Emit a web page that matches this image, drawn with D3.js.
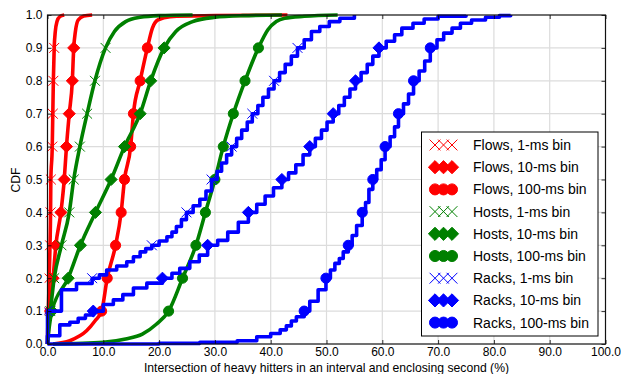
<!DOCTYPE html>
<html><head><meta charset="utf-8">
<script src="https://cdn.jsdelivr.net/npm/d3@7"></script>
<style>
body{margin:0;background:#fff}
svg{display:block}
text{font-family:"Liberation Sans",Arial,sans-serif;fill:#000}
</style>
</head><body>
<svg id="chart" width="621" height="374"></svg>
<script>
// CDF knots [intersection %, cumulative fraction] per series
const flows1ms = [[0,0],[0.05,0.05],[0.15,0.1],[0.3,0.2],[0.45,0.3],[0.55,0.4],[0.6,0.5],[0.85,0.6],[0.95,0.7],[1.05,0.8],[1.2,0.9],[1.4,0.95],[1.7,0.98],[2.2,0.995],[3.0,1.0]];
const flows10ms = [[0,0],[0.2,0.05],[0.4,0.1],[1.0,0.2],[1.5,0.3],[2.4,0.4],[3.0,0.5],[3.4,0.6],[3.9,0.7],[4.45,0.8],[4.7,0.9],[5.0,0.95],[5.5,0.985],[6.5,0.997],[8.0,1.0]];
const flows100ms = [[1.0,0],[4.0,0.01],[7.0,0.04],[8.5,0.07],[9.7,0.1],[10.7,0.2],[12.2,0.3],[13.2,0.4],[13.8,0.5],[14.9,0.6],[15.4,0.7],[16.6,0.8],[17.9,0.9],[18.8,0.96],[19.8,0.985],[22,0.995],[30,0.998],[43,1.0]];
const hosts1ms = [[0,0],[0.1,0.05],[0.5,0.1],[1.2,0.2],[2.5,0.3],[3.9,0.4],[4.7,0.5],[5.8,0.6],[7.1,0.7],[8.5,0.8],[10.4,0.9],[12.0,0.95],[14.0,0.98],[16.6,0.993],[20,0.998],[26,1.0]];
const hosts10ms = [[0,0],[0.3,0.05],[0.8,0.1],[3.7,0.2],[5.9,0.3],[8.6,0.4],[11.4,0.5],[13.8,0.6],[16.6,0.7],[18.5,0.8],[20.9,0.9],[23,0.95],[26,0.98],[30,0.993],[35,0.998],[42,1.0]];
const hosts100ms = [[1,0],[10,0.005],[14,0.015],[17,0.03],[19.5,0.06],[21.7,0.1],[24.2,0.2],[26.6,0.3],[28.3,0.4],[30.0,0.5],[31.5,0.6],[33.3,0.7],[35.4,0.8],[37.8,0.9],[39.5,0.955],[41,0.98],[42.5,0.99],[46,0.996],[52,1.0]];
const racks1ms = [[0,0],[0,0.1],[2.5,0.165],[5.2,0.184],[8.0,0.2],[9.3,0.21],[10.6,0.225],[12.4,0.237],[14.2,0.25],[15.4,0.265],[16.6,0.28],[17.6,0.29],[18.7,0.3],[20.0,0.313],[21.4,0.326],[22.3,0.34],[23.1,0.357],[24.0,0.378],[24.9,0.4],[26.1,0.42],[27.3,0.44],[28.4,0.465],[29.4,0.5],[30.4,0.525],[31.2,0.55],[32.1,0.575],[33.0,0.6],[33.9,0.625],[34.8,0.65],[35.8,0.675],[36.7,0.7],[37.7,0.725],[38.6,0.75],[39.6,0.775],[40.6,0.8],[41.6,0.825],[42.6,0.85],[43.7,0.875],[44.8,0.9],[46.0,0.925],[47.3,0.95],[48.8,0.965],[50.5,0.98],[52.4,0.99],[55,1.0]];
const racks10ms = [[0,0],[0,0.025],[2.2,0.058],[4.0,0.066],[5.5,0.078],[6.8,0.088],[8.2,0.1],[10.0,0.12],[11.8,0.134],[13.5,0.15],[15.4,0.17],[17.8,0.185],[20.6,0.2],[22.3,0.215],[23.7,0.23],[25.5,0.25],[27.2,0.27],[28.7,0.3],[30.5,0.315],[32.3,0.34],[34.2,0.37],[36.0,0.4],[37.5,0.425],[39.0,0.45],[40.5,0.475],[42.0,0.5],[43.2,0.52],[44.5,0.545],[45.8,0.575],[47.0,0.6],[48.0,0.625],[49.1,0.65],[50.1,0.675],[51.2,0.7],[52.2,0.725],[53.2,0.75],[54.2,0.775],[55.2,0.8],[56.2,0.825],[57.3,0.85],[58.3,0.875],[59.4,0.9],[60.7,0.92],[62.2,0.94],[63.5,0.96],[65.5,0.975],[67.5,0.988],[70,0.996],[75,1.0]];
const racks100ms = [[0,0],[20,0.002],[27.3,0.005],[34,0.01],[37.5,0.022],[40,0.032],[41.7,0.043],[42.8,0.055],[43.7,0.07],[44.6,0.083],[46.0,0.1],[47.0,0.13],[48.5,0.165],[49.9,0.2],[50.7,0.225],[51.5,0.245],[52.3,0.26],[53.0,0.28],[53.9,0.3],[54.6,0.33],[55.4,0.36],[56.4,0.4],[57.0,0.43],[57.6,0.47],[58.3,0.5],[59.0,0.53],[59.8,0.56],[60.5,0.6],[61.4,0.63],[62.2,0.66],[62.9,0.7],[63.8,0.73],[64.7,0.76],[65.6,0.8],[66.6,0.83],[67.6,0.86],[68.6,0.9],[69.8,0.925],[71,0.945],[72.5,0.96],[74,0.975],[76,0.985],[78.5,0.993],[81,0.998],[83,1.0]];

const seriesLabels = ["Flows, 1-ms bin","Flows, 10-ms bin","Flows, 100-ms bin","Hosts, 1-ms bin","Hosts, 10-ms bin","Hosts, 100-ms bin","Racks, 1-ms bin","Racks, 10-ms bin","Racks, 100-ms bin"];
const seriesColors = ["#ff0000","#ff0000","#ff0000","#008000","#008000","#008000","#0000ff","#0000ff","#0000ff"];
const seriesMarkers = ["x","D","o","x","D","o","x","D","o"];
const seriesStepped = [false,false,false,false,false,false,true,true,true];
const seriesData = [flows1ms,flows10ms,flows100ms,hosts1ms,hosts10ms,hosts100ms,racks1ms,racks10ms,racks100ms];

const xTicks = [0,10,20,30,40,50,60,70,80,90,100];
const yTicks = [0,0.1,0.2,0.3,0.4,0.5,0.6,0.7,0.8,0.9,1.0];
const xTitle = "Intersection of heavy hitters in an interval and enclosing second (%)";
const yTitle = "CDF";

const svg = d3.select("#chart");
const plotLeft = 47.5, plotRight = 605.5, plotTop = 15, plotBottom = 344;
const x = d3.scaleLinear().domain([0,100]).range([plotLeft,plotRight]);
const y = d3.scaleLinear().domain([0,1]).range([plotBottom,plotTop]);

const plot = svg.append("g");
plot.append("clipPath").attr("id","clip").append("rect")
  .attr("x",plotLeft-3).attr("y",plotTop-3).attr("width",plotRight-plotLeft+6).attr("height",plotBottom-plotTop+6);

// grid
const grid = plot.append("g").attr("stroke","#dcdcdc").attr("stroke-width",1.2);
grid.selectAll(".gx").data(xTicks.slice(1,-1)).join("line")
  .attr("x1",d=>x(d)).attr("x2",d=>x(d)).attr("y1",plotTop).attr("y2",plotBottom);
grid.selectAll(".gy").data(yTicks.slice(1,-1)).join("line")
  .attr("y1",d=>y(d)).attr("y2",d=>y(d)).attr("x1",plotLeft).attr("x2",plotRight);

function drawMarker(g, type, cx, cy, color, s){
  if(type==="x"){
    const h = s*0.45;
    g.append("path").attr("d",`M${cx-h},${cy-h}L${cx+h},${cy+h}M${cx-h},${cy+h}L${cx+h},${cy-h}`)
      .attr("stroke",color).attr("stroke-width",1).attr("fill","none");
  } else if(type==="D"){
    const h = s*0.55;
    g.append("path").attr("d",`M${cx},${cy-h}L${cx+h},${cy}L${cx},${cy+h}L${cx-h},${cy}Z`)
      .attr("fill",color).attr("stroke",color).attr("stroke-width",1);
  } else {
    g.append("circle").attr("cx",cx).attr("cy",cy).attr("r",s*0.46)
      .attr("fill",color).attr("stroke",color).attr("stroke-width",1);
  }
}

const curves = plot.append("g").attr("clip-path","url(#clip)");
seriesData.forEach((data,i)=>{
  const line = d3.line().x(d=>x(d[0])).y(d=>y(d[1]))
    .curve(seriesStepped[i] ? d3.curveStepAfter : d3.curveMonotoneX);
  const g = curves.append("g");
  g.append("path").datum(data).attr("d",line)
    .attr("fill","none").attr("stroke",seriesColors[i]).attr("stroke-width",3.6)
    .attr("stroke-linejoin","round").attr("stroke-linecap","butt");
  data.filter(d=>d[1]>0.05 && d[1]<0.95 && Math.abs(d[1]*10-Math.round(d[1]*10))<1e-6)
    .forEach(d=>drawMarker(g, seriesMarkers[i], x(d[0]), y(d[1]), seriesColors[i], 11));
});

// axes with inward ticks on all four sides
const fmt = d3.format(".1f");
const axB = svg.append("g").attr("transform",`translate(0,${plotBottom})`)
  .call(d3.axisBottom(x).tickValues(xTicks).tickFormat(fmt).tickSizeInner(-4).tickSizeOuter(0).tickPadding(3));
const axT = svg.append("g").attr("transform",`translate(0,${plotTop})`)
  .call(d3.axisTop(x).tickValues(xTicks).tickFormat("").tickSizeInner(-4).tickSizeOuter(0));
const axL = svg.append("g").attr("transform",`translate(${plotLeft},0)`)
  .call(d3.axisLeft(y).tickValues(yTicks).tickFormat(fmt).tickSizeInner(-4).tickSizeOuter(0).tickPadding(5));
const axR = svg.append("g").attr("transform",`translate(${plotRight},0)`)
  .call(d3.axisRight(y).tickValues(yTicks).tickFormat("").tickSizeInner(-4).tickSizeOuter(0));
[axB,axT,axL,axR].forEach(a=>{
  a.select(".domain").remove();
  a.selectAll(".tick line").attr("stroke","#000").attr("stroke-width",0.8);
  a.selectAll("text").style("font-size","12px").style("font-family",'"Liberation Sans",Arial,sans-serif');
});
axB.selectAll("text").attr("dy","0.71em");
svg.append("rect").attr("x",plotLeft).attr("y",plotTop).attr("width",plotRight-plotLeft).attr("height",plotBottom-plotTop)
  .attr("fill","none").attr("stroke","#111").attr("stroke-width",1.2);

svg.append("text").attr("x",(plotLeft+plotRight)/2).attr("y",372).attr("text-anchor","middle")
  .style("font-size","12.2px").text(xTitle);
svg.append("text").attr("transform","translate(20,180) rotate(-90)").attr("text-anchor","middle")
  .style("font-size","12.2px").text(yTitle);

// legend
const lg = svg.append("g");
lg.append("rect").attr("x",421.5).attr("y",132).attr("width",176.5).attr("height",204)
  .attr("fill","#fff").attr("stroke","#000").attr("stroke-width",1);
seriesLabels.forEach((lab,i)=>{
  const cy = 145 + i*22.2;
  [435,443.5,452].forEach(cx=>drawMarker(lg, seriesMarkers[i], cx, cy, seriesColors[i], 12));
  lg.append("text").attr("x",473).attr("y",cy).attr("dy","0.35em")
    .style("font-size","14px").text(lab);
});
</script>
</body></html>
